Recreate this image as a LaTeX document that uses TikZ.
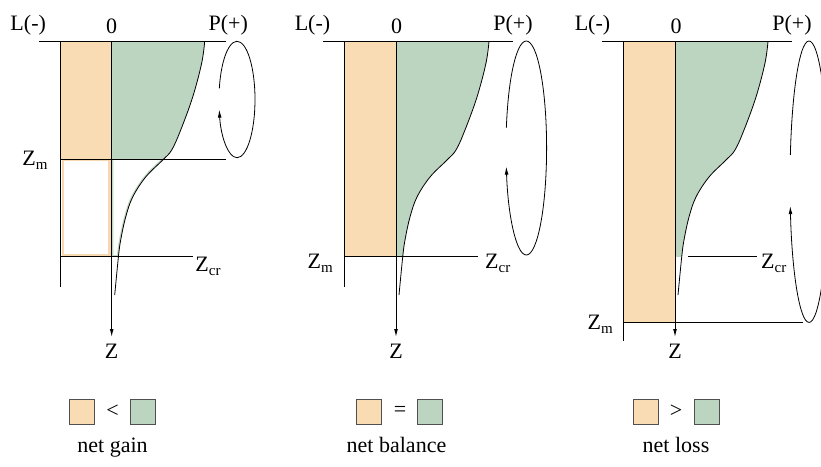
\documentclass[tikz,border=0pt]{standalone}
\usepackage{fontspec}
\setmainfont{Liberation Serif}
\usetikzlibrary{arrows.meta}
\definecolor{orfill}{RGB}{249,219,180}
\definecolor{oredge}{RGB}{248,216,176}
\definecolor{grfill}{RGB}{188,213,192}
\definecolor{sqedge}{RGB}{80,80,80}
\newcommand{\sub}[1]{\raisebox{-4pt}{\fontsize{15}{15}\selectfont #1}}
\tikzset{
  crv/.style={insert path={-- plot[smooth,tension=0.6] coordinates {(93,41.3) (90,63) (81,97) (69,130) (60,150) (51,160) (34,177) (21,197) (14,217) (9,240) (6.7,257) (3,295)}}},
  lbl/.style={font=\fontsize{22}{26}\selectfont, inner sep=0pt},
  ln/.style={line width=0.9pt, black},
  axarrow/.style={line width=0.9pt, -{Latex[length=8pt,width=3.8pt]}},
  cyc/.style={line width=0.8pt, -{Latex[length=8pt,width=3.8pt]}},
  sq/.style={draw=sqedge, line width=0.9pt, minimum width=25pt, minimum height=25pt, inner sep=0pt},
}
\begin{document}
\begin{tikzpicture}[x=1pt,y=-1pt]
\useasboundingbox (0,0) rectangle (821,466);

% ================= Panel 1 =================
\begin{scope}[xshift=111.7pt]
  \fill[orfill] (-51.5,41.3) rectangle (0,159.3);
  \begin{scope}
    \clip (0,41.3) rectangle (120,159.3);
    \fill[grfill] (0,41.3) [crv] -- (0,295) -- cycle;
  \end{scope}
  \begin{scope}
    \clip (0,159.3) rectangle (120,256.7);
    \clip (0,41.3) [crv] -- (0,295) -- cycle;
    \draw[grfill, line width=3.2pt] (0,41.3) [crv] -- (0,295) -- cycle;
    \draw[grfill, line width=3.2pt] (0,256.7) -- (120,256.7);
  \end{scope}
  \draw[oredge, line width=2.3pt] (-48.7,160.2) rectangle (-2.2,255.5);
  \coordinate (a1top) at (0,41.3);
  \coordinate (a1bot) at (0,337);
  \coordinate (l1top) at (-51.5,41.3);
  \coordinate (l1bot) at (-51.5,287);
  \coordinate (t1l) at (-73,41.3);
  \coordinate (t1r) at (114.5,41.3);
  \coordinate (m1l) at (-51.5,159.3);
  \coordinate (m1r) at (114.5,159.3);
  \coordinate (c1l) at (-51.5,256.7);
  \coordinate (c1r) at (81.5,256.7);
  \draw[ln] (t1l) -- (t1r);
  \draw[ln] (l1top) -- (l1bot);
  \draw[ln] (m1l) -- (m1r);
  \draw[ln] (c1l) -- (c1r);
  \draw[line width=0.8pt] (93,41.3) [crv];
  \draw[axarrow] (a1top) -- (a1bot);
  \draw[cyc] (125.3,99.5) ++(191:18 and 58.2) arc[start angle=191, end angle=530, x radius=18, y radius=58.2];
  \node[lbl, anchor=base] (L1) at (-83.5,30) {L(-)};
  \node[lbl, anchor=base] (O1) at (0,33) {0};
  \node[lbl, anchor=base] (P1) at (116.5,30) {P(+)};
  \node[lbl, anchor=base east] (Zm1) at (-64,165.5) {Z\sub{m}};
  \node[lbl, anchor=base west] (Zc1) at (83.5,271) {Z\sub{cr}};
  \node[lbl, anchor=base] (Z1) at (0,358) {Z};
\end{scope}

% ================= Panel 2 =================
\begin{scope}[xshift=396pt]
  \fill[orfill] (-51.5,41.3) rectangle (0,256.7);
  \begin{scope}
    \clip (0,41.3) rectangle (120,256.7);
    \fill[grfill] (0,41.3) [crv] -- (0,295) -- cycle;
  \end{scope}
  \coordinate (a2top) at (0,41.3);
  \coordinate (a2bot) at (0,337);
  \coordinate (l2top) at (-51.5,41.3);
  \coordinate (l2bot) at (-51.5,287);
  \coordinate (t2l) at (-73,41.3);
  \coordinate (t2r) at (117,41.3);
  \coordinate (c2l) at (-51.5,256.7);
  \coordinate (c2r) at (81.5,256.7);
  \draw[ln] (t2l) -- (t2r);
  \draw[ln] (l2top) -- (l2bot);
  \draw[ln] (c2l) -- (c2r);
  \draw[line width=0.8pt] (93,41.3) [crv];
  \draw[axarrow] (a2top) -- (a2bot);
  \draw[cyc] (130.3,148) ++(191:20.3 and 107) arc[start angle=191, end angle=530, x radius=20.3, y radius=107];
  \node[lbl, anchor=base] (L2) at (-83.5,30) {L(-)};
  \node[lbl, anchor=base] (O2) at (0.7,33) {0};
  \node[lbl, anchor=base] (P2) at (117,30) {P(+)};
  \node[lbl, anchor=base east] (Zm2) at (-63,268) {Z\sub{m}};
  \node[lbl, anchor=base west] (Zc2) at (89,268) {Z\sub{cr}};
  \node[lbl, anchor=base] (Z2) at (0,358) {Z};
\end{scope}

% ================= Panel 3 =================
\begin{scope}[xshift=675pt]
  \fill[orfill] (-52,41.3) rectangle (0,322.7);
  \begin{scope}
    \clip (0,41.3) rectangle (120,256.7);
    \fill[grfill] (0,41.3) [crv] -- (0,295) -- cycle;
  \end{scope}
  \coordinate (a3top) at (0,41.3);
  \coordinate (a3bot) at (0,337);
  \coordinate (l3top) at (-52,41.3);
  \coordinate (l3bot) at (-52,341);
  \coordinate (t3l) at (-73,41.3);
  \coordinate (t3r) at (117,41.3);
  \coordinate (m3l) at (-52,322.7);
  \coordinate (m3r) at (127.7,322.7);
  \coordinate (c3l) at (13,256.7);
  \coordinate (c3r) at (82,256.7);
  \draw[ln] (t3l) -- (t3r);
  \draw[ln] (l3top) -- (l3bot);
  \draw[ln] (m3l) -- (m3r);
  \draw[ln] (c3l) -- (c3r);
  \draw[line width=0.8pt] (93,41.3) [crv];
  \draw[axarrow] (a3top) -- (a3bot);
  \draw[cyc] (134,181.7) ++(191:19 and 140.7) arc[start angle=191, end angle=530, x radius=19, y radius=140.7];
  \node[lbl, anchor=base] (L3) at (-82.5,30) {L(-)};
  \node[lbl, anchor=base] (O3) at (1,33) {0};
  \node[lbl, anchor=base] (P3) at (117,30) {P(+)};
  \node[lbl, anchor=base east] (Zm3) at (-62,329.5) {Z\sub{m}};
  \node[lbl, anchor=base west] (Zc3) at (86,268) {Z\sub{cr}};
  \node[lbl, anchor=base] (Z3) at (0,358) {Z};
\end{scope}

% ================= Legend =================
\node[sq, fill=orfill] (o1) at (82,411.5) {};
\node[lbl] (s1) at (112.5,411) {<};
\node[sq, fill=grfill] (g1) at (143,411.5) {};
\node[lbl, anchor=base] (n1) at (112.5,452) {net gain};

\node[sq, fill=orfill] (o2) at (369,411.5) {};
\node[lbl] (s2) at (400,411) {=};
\node[sq, fill=grfill] (g2) at (430,411.5) {};
\node[lbl, anchor=base] (n2) at (396.5,452) {net balance};

\node[sq, fill=orfill] (o3) at (645.5,411.5) {};
\node[lbl] (s3) at (676,411) {>};
\node[sq, fill=grfill] (g3) at (707,411.5) {};
\node[lbl, anchor=base] (n3) at (676,452) {net loss};
\end{tikzpicture}
\end{document}
